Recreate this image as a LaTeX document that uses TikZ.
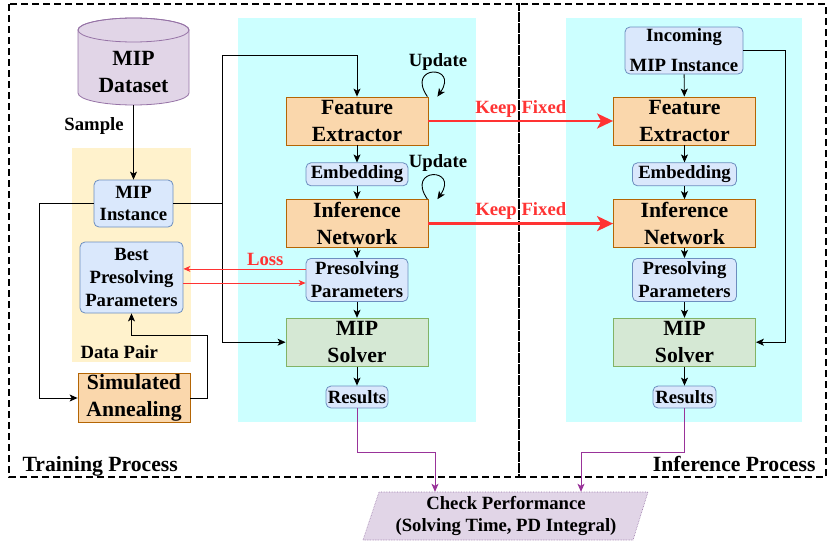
\documentclass[tikz,border=0pt]{standalone}
\usepackage{fontspec}
\setmainfont{Liberation Serif}
\usetikzlibrary{positioning, arrows.meta, calc}

\definecolor{cyanbg}{HTML}{CCFFFF}
\definecolor{pairbg}{HTML}{FFF2CC}
\definecolor{orangefill}{HTML}{FAD7AC}
\definecolor{orangeline}{HTML}{B46504}
\definecolor{bluefill}{HTML}{DAE8FC}
\definecolor{blueline}{HTML}{6C8EBF}
\definecolor{greenfill}{HTML}{D5E8D4}
\definecolor{greenline}{HTML}{82B366}
\definecolor{purplefill}{HTML}{E1D5E7}
\definecolor{purpleline}{HTML}{9673A6}
\definecolor{purplearrow}{HTML}{993399}
\definecolor{lossred}{HTML}{FF3333}

\begin{document}
\begin{tikzpicture}[x=1pt, y=-1pt,
  big/.style={font=\bfseries\fontsize{21.7}{27}\selectfont, align=center},
  small/.style={font=\bfseries\fontsize{18.7}{22.8}\selectfont, align=center},
  module/.style={draw=orangeline, fill=orangefill, line width=0.8pt, rectangle, minimum width=142pt, minimum height=48pt, inner sep=1pt, big},
  databox/.style={draw=blueline, fill=bluefill, line width=0.8pt, rectangle, rounded corners=5pt, inner sep=1pt, small},
  solverbox/.style={draw=greenline, fill=greenfill, line width=0.8pt, rectangle, minimum width=142pt, minimum height=48pt, inner sep=1pt, big},
  flow/.style={-{Stealth[length=8pt, width=7pt, inset=2pt]}, line width=0.9pt},
  loss/.style={-{Stealth[length=7pt, width=6pt, inset=2pt]}, draw=lossred, line width=0.8pt},
  fixed/.style={-{Stealth[length=16pt, width=15pt, inset=4pt]}, draw=lossred, line width=2.6pt},
  result/.style={-{Stealth[length=8pt, width=7pt, inset=2pt]}, draw=purplearrow, line width=0.9pt},
  region/.style={dash pattern=on 7pt off 4pt, line width=1.6pt}
]
\useasboundingbox (0,0) rectangle (828,544);

% backgrounds
\fill[cyanbg] (238,18) rectangle (476,422);
\fill[cyanbg] (566,18) rectangle (802,422);
\fill[pairbg] (72,148) rectangle (191,362);
\draw[region] (9,4) rectangle (519,477);
\draw[region] (519,4) rectangle (826,477);

% dataset cylinder
\draw[draw=purpleline, fill=purplefill, line width=0.8pt] (78,30) -- (78,93)
  arc[start angle=180, end angle=0, x radius=55.5, y radius=12] -- (189,30)
  arc[start angle=0, end angle=-180, x radius=55.5, y radius=12] -- cycle;
\draw[draw=purpleline, line width=0.8pt] (133.5,30) ellipse[x radius=55.5, y radius=12];
\node[big, minimum width=111pt, minimum height=66pt] (dataset) at (133.5,72) {MIP\\Dataset};

% training side
\node[databox, minimum width=79pt, minimum height=47pt] (inst1) at (133.5,203.5) {MIP\\Instance};
\node[databox, minimum width=103pt, minimum height=71pt, inner ysep=0pt] (best) at (131.5,277.5) {Best\\Presolving\\Parameters};
\node[small, anchor=west] (pairlbl) at (77,352) {Data Pair};
\node[module, minimum width=112pt] (sa) at (134,398) {Simulated\\Annealing};

\node[module] (fe1) at (357,121) {Feature\\Extractor};
\node[databox, minimum width=102pt, minimum height=23pt, below=17pt of fe1] (emb1) {Embedding};
\node[module, below=13pt of emb1] (in1) {Inference\\Network};
\node[databox, minimum width=102pt, minimum height=43pt, inner ysep=0pt, below=10pt of in1] (pp1) {Presolving\\Parameters};
\node[solverbox, below=16pt of pp1] (solver1) {MIP\\Solver};
\node[databox, minimum width=62pt, minimum height=22pt, inner ysep=0pt, below=19pt of solver1] (res1) {Results};

% inference side
\node[databox, minimum width=118pt, minimum height=47pt, inner sep=0pt] (inc) at (684,50.5) {Incoming\\[7pt]MIP Instance};
\node[module] (fe2) at (684.5,121) {Feature\\Extractor};
\node[databox, minimum width=104pt, minimum height=23pt, below=17pt of fe2] (emb2) {Embedding};
\node[module, below=13pt of emb2] (in2) {Inference\\Network};
\node[databox, minimum width=104pt, minimum height=43pt, inner ysep=0pt, below=10pt of in2] (pp2) {Presolving\\Parameters};
\node[solverbox, below=16pt of pp2] (solver2) {MIP\\Solver};
\node[databox, minimum width=63pt, minimum height=22pt, inner ysep=0pt, below=19pt of solver2] (res2) {Results};

% check performance
\draw[draw=purpleline, fill=purplefill, line width=0.6pt, densely dotted] (363,540) -- (379,492) -- (648,492) -- (633,540) -- cycle;
\node[small, minimum width=255pt, minimum height=48pt] (check) at (506,516) {Check Performance\\(Solving Time, PD Integral)};

% labels
\node[big, anchor=base west] (trainlbl) at (19,471) {Training Process};
\node[big, anchor=base east] (inferlbl) at (819,471) {Inference Process};
\node[small] (upd1) at (438,62) {Update};
\node[small] (upd2) at (438,163) {Update};

% connectors
\draw[flow] (dataset) -- node[pos=0.28, left=6pt, small] {Sample} (inst1);
\draw[flow] (inst1.west) -- ++(-54,0) |- (sa.west);
\draw[flow] (sa.east) -- ++(17,0) -- ++(0,-63) -| (best.south);
\coordinate (split) at ($(inst1.east)+(49,0)$);
\draw[line width=0.9pt] (inst1.east) -- (split);
\draw[flow] (split) -- ++(0,-148) -| (fe1.north);
\draw[flow] (split) |- (solver1.west);

\draw[flow] (fe1) -- (emb1);
\draw[flow] (emb1) -- (in1);
\draw[flow] (in1) -- (pp1);
\draw[flow] (pp1) -- (solver1);
\draw[flow] (solver1) -- (res1);

\draw[flow] ([xshift=-1pt]fe1.north east) .. controls +(-22,-32) and +(22,-32) .. ([xshift=9pt]fe1.north east);
\draw[flow] ([xshift=-1pt]in1.north east) .. controls +(-22,-32) and +(22,-32) .. ([xshift=9pt]in1.north east);

\draw[loss] ([yshift=11pt]pp1.west) -- node[pos=0.33, above=-1pt, small, text=lossred] {Loss} ([yshift=11pt]pp1.west -| best.east);
\draw[loss] ([yshift=-5.5pt]best.east) -- ([yshift=-5.5pt]best.east -| pp1.west);

\draw[fixed] (fe1) -- node[above=-1pt, small, text=lossred] {Keep Fixed} (fe2);
\draw[fixed] (in1) -- node[above=-1pt, small, text=lossred] {Keep Fixed} (in2);

\draw[flow] (inc) -- (fe2);
\draw[flow] (fe2) -- (emb2);
\draw[flow] (emb2) -- (in2);
\draw[flow] (in2) -- (pp2);
\draw[flow] (pp2) -- (solver2);
\draw[flow] (solver2) -- (res2);
\draw[flow] (inc.east) -- ++(42,0) |- (solver2.east);

\draw[result] (res1.south) -- ++(0,44) -| ([xshift=-71pt]check.north);
\draw[result] (res2.south) -- ++(0,44) -| ([xshift=75pt]check.north);
\end{tikzpicture}
\end{document}
